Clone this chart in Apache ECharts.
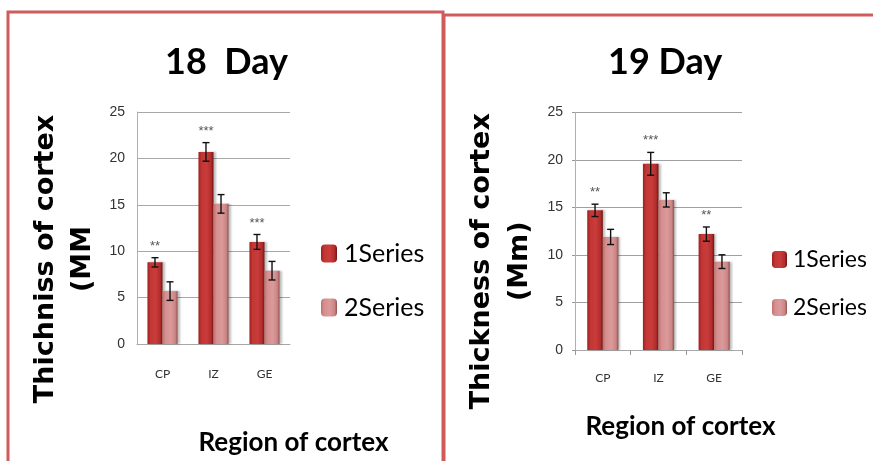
<!DOCTYPE html>
<html>
<head>
<meta charset="utf-8">
<script src="https://cdn.jsdelivr.net/npm/echarts@6/dist/echarts.min.js"></script>
<style>html,body{margin:0;padding:0;background:#fff;}#c{width:873px;height:461px;}</style>
</head>
<body>
<div id="c"></div>
<script>
// ---- data ----
var categories = ['CP', 'IZ', 'GE'];
var seriesNames = ['1Series', '2Series'];
var yTicks = [0, 5, 10, 15, 20, 25];

var day18Title = '18  Day';
var day18S1 = [8.8, 20.7, 11.0];
var day18S2 = [5.7, 15.1, 7.9];
var day18Err1 = [0.5, 1.0, 0.8];
var day18Err2 = [1.0, 1.0, 1.0];
var day18Sig = ['**', '***', '***'];
var day18YName = 'Thichniss of cortex\n(MM';

var day19Title = '19 Day';
var day19S1 = [14.7, 19.6, 12.2];
var day19S2 = [11.9, 15.8, 9.3];
var day19Err1 = [0.65, 1.2, 0.75];
var day19Err2 = [0.8, 0.75, 0.72];
var day19Sig = ['**', '***', '**'];
var day19YName = 'Thickness of cortex\n(Mm)';

var xName = 'Region of cortex';

// ---- styles ----
var c1 = {type:'linear',x:0,y:0,x2:1,y2:0,colorStops:[
  {offset:0,color:'#9c2020'},{offset:0.2,color:'#c23634'},{offset:0.55,color:'#c93c3b'},{offset:0.85,color:'#b02c2b'},{offset:1,color:'#6e1212'}]};
var c2 = {type:'linear',x:0,y:0,x2:1,y2:0,colorStops:[
  {offset:0,color:'#c07070'},{offset:0.2,color:'#d58f8f'},{offset:0.55,color:'#db9a9a'},{offset:0.85,color:'#cc8484'},{offset:1,color:'#8f5050'}]};
var catGaps = [0.41, 0.44];

function errData(vals, errs) {
  return vals.map(function (v, i) { return [i, v, errs[i]]; });
}
function makeErr(gridIdx, k, vals, errs, sig) {
  return {
    type: 'custom', name: 'err' + gridIdx + k, xAxisIndex: gridIdx, yAxisIndex: gridIdx, z: 5,
    data: errData(vals, errs),
    encode: {x: 0, y: 1},
    renderItem: function (params, api) {
      var ci = api.value(0), v = api.value(1), e = api.value(2);
      var d = params.dataIndex;
      var s = sig ? sig[d] : '';
      var band = api.size([1, 0])[0];
      var bw = band * (1 - catGaps[gridIdx]) / 2;
      var cx = api.coord([ci, v])[0] + (k === 0 ? -bw / 2 : bw / 2);
      var yt = api.coord([ci, v + e])[1];
      var yb = api.coord([ci, v - e])[1];
      var st = {stroke: '#111', lineWidth: 1.4};
      var ch = [
        {type:'line', shape:{x1:cx,y1:yt,x2:cx,y2:yb}, style:st},
        {type:'line', shape:{x1:cx-3.5,y1:yt,x2:cx+3.5,y2:yt}, style:st},
        {type:'line', shape:{x1:cx-3.5,y1:yb,x2:cx+3.5,y2:yb}, style:st}
      ];
      if (s) {
        ch.push({type:'text', style:{text:s, x:cx, y:yt-5, align:'center', verticalAlign:'bottom',
          font:'13px "Liberation Sans"', fill:'#555'}});
      }
      return {type:'group', children: ch};
    }
  };
}
function makeBar(gridIdx, k, vals) {
  return {
    type: 'bar', name: seriesNames[k], xAxisIndex: gridIdx, yAxisIndex: gridIdx,
    data: vals, barGap: '0%', barCategoryGap: (catGaps[gridIdx] * 100) + '%',
    itemStyle: {color: k === 0 ? c1 : c2, shadowColor: 'rgba(0,0,0,0.25)', shadowOffsetX: 2, shadowBlur: 2},
    emphasis: {disabled: true}
  };
}

var yLab = {color:'#333', fontFamily:'Liberation Sans', fontSize:14, margin:12};
var option = {
  animation: false,
  backgroundColor: '#fff',
  title: [
    {text: day18Title, left: 160, top: 39, textStyle:{fontFamily:'Lato', fontWeight:'bold', fontSize:36, color:'#000'}},
    {text: day19Title, left: 603, top: 39, textStyle:{fontFamily:'Lato', fontWeight:'bold', fontSize:36, color:'#000'}}
  ],
  legend: [
    {orient:'vertical', left: 316, top: 236, itemWidth:16, itemHeight:18, itemGap: 29,
     data: seriesNames, selectedMode:false,
     textStyle:{fontFamily:'Lato', fontSize:25, color:'#000', padding:[0,0,0,2]}},
    {orient:'vertical', left: 767, top: 243, itemWidth:15, itemHeight:17, itemGap: 25,
     data: seriesNames, selectedMode:false,
     textStyle:{fontFamily:'Lato', fontSize:23, color:'#000', padding:[0,0,0,1]}}
  ],
  grid: [
    {left: 137, top: 112, width: 153, height: 234},
    {left: 575, top: 112.5, width: 167, height: 237.5}
  ],
  xAxis: [
    {type:'category', gridIndex:0, data: categories,
     axisLine:{lineStyle:{color:'#a8a8a8'}}, axisTick:{show:false},
     axisLabel:{fontFamily:'Lato', fontSize:12, color:'#333', margin:24},
     name: xName, nameLocation:'middle', nameGap: 86,
     nameTextStyle:{fontFamily:'Lato', fontWeight:'bold', fontSize:26, color:'#000', padding:[0,0,0,160]}},
    {type:'category', gridIndex:1, data: categories,
     axisLine:{lineStyle:{color:'#a8a8a8'}}, axisTick:{show:true, length:5, lineStyle:{color:'#999'}},
     axisLabel:{fontFamily:'Lato', fontSize:12, color:'#333', margin:22},
     name: xName, nameLocation:'middle', nameGap: 64,
     nameTextStyle:{fontFamily:'Lato', fontWeight:'bold', fontSize:26, color:'#000', padding:[0,0,0,44]}}
  ],
  yAxis: [
    {type:'value', gridIndex:0, min: yTicks[0], max: yTicks[yTicks.length-1], interval: 5,
     axisLine:{show:true, lineStyle:{color:'#b0b0b0'}}, axisTick:{show:false},
     splitLine:{lineStyle:{color:'#a8a8a8'}}, axisLabel: yLab,
     name: day18YName, nameLocation:'middle', nameGap: 36, nameRotate: 90,
     nameTextStyle:{fontFamily:'DejaVu Sans', fontWeight:'bold', fontSize:27, lineHeight:37, color:'#000', padding:[0,62,0,0]}},
    {type:'value', gridIndex:1, min: yTicks[0], max: yTicks[yTicks.length-1], interval: 5,
     axisLine:{show:true, lineStyle:{color:'#b0b0b0'}}, axisTick:{show:true, length:3, lineStyle:{color:'#999'}},
     splitLine:{lineStyle:{color:'#a0a0a0'}}, axisLabel: yLab,
     name: day19YName, nameLocation:'middle', nameGap: 36, nameRotate: 90,
     nameTextStyle:{fontFamily:'DejaVu Sans', fontWeight:'bold', fontSize:27, lineHeight:38, color:'#000', padding:[0,60,0,0]}}
  ],
  graphic: [
    {type:'rect', shape:{x:8, y:12, width:435, height:480}, style:{fill:'none', stroke:'#cf5b5b', lineWidth:3}, z:-1},
    {type:'rect', shape:{x:444, y:15, width:450, height:480}, style:{fill:'none', stroke:'#cf5b5b', lineWidth:3}, z:-1}
  ],
  series: [
    makeBar(0, 0, day18S1), makeBar(0, 1, day18S2),
    makeErr(0, 0, day18S1, day18Err1, day18Sig), makeErr(0, 1, day18S2, day18Err2, null),
    makeBar(1, 0, day19S1), makeBar(1, 1, day19S2),
    makeErr(1, 0, day19S1, day19Err1, day19Sig), makeErr(1, 1, day19S2, day19Err2, null)
  ]
};
var chart = echarts.init(document.getElementById('c'));
chart.setOption(option);
</script>
</body>
</html>
